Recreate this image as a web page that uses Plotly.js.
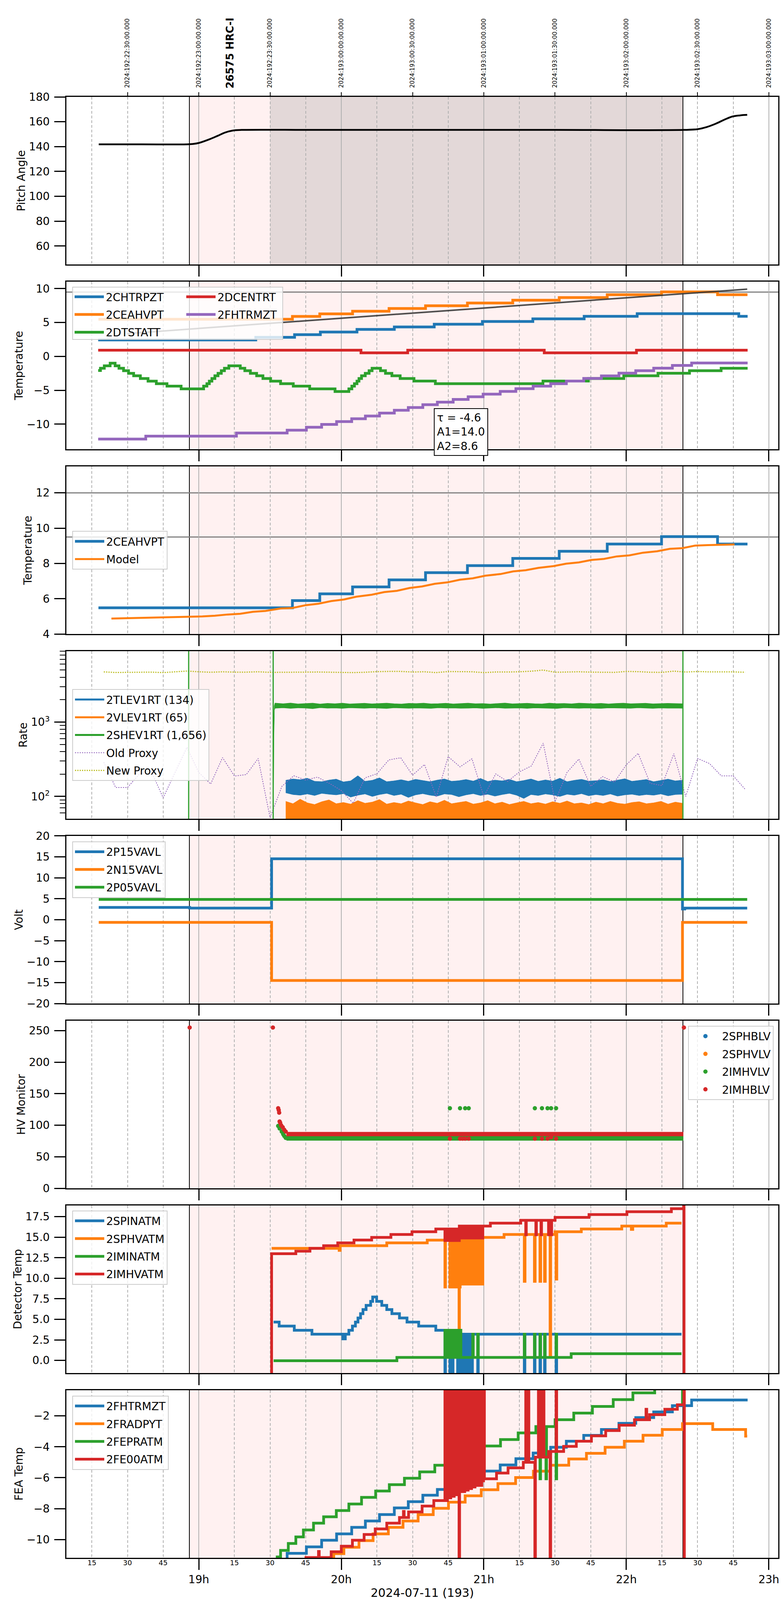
<!DOCTYPE html>
<html>
<head>
<meta charset="utf-8">
<script src="https://cdn.plot.ly/plotly-3.0.1.min.js"></script>
<style>body{margin:0;background:#fff}</style>
</head>
<body>
<div id="myDiv"></div>
<script>
// times are decimal hours (local); step series: value starts at its time

// panel 1: pitch
var pitchT = [18.298, 18.60, 18.918, 18.96, 19.0, 19.078, 19.131, 19.184, 19.238, 19.30, 19.8, 20.5, 21.5, 22.402, 22.499, 22.563, 22.627, 22.691, 22.744, 22.797, 22.848];
var pitch = [141.8, 141.8, 141.8, 142.1, 142.9, 146.0, 148.6, 151.3, 152.9, 153.4, 153.4, 153.4, 153.4, 153.4, 154.0, 155.7, 158.4, 161.8, 164.2, 165.1, 165.5];

// panel 2: temperatures
var chtrpztT = [18.294, 19.40, 19.672, 19.853, 20.11, 20.372, 20.652, 20.99, 21.344, 21.704, 22.076, 22.789, 22.851];
var chtrpzt = [2.43, 2.82, 3.20, 3.60, 3.98, 4.35, 4.75, 5.15, 5.54, 5.92, 6.30, 5.92, 5.92];
var ceahvptT = [18.296, 19.657, 19.849, 20.079, 20.335, 20.591, 20.885, 21.203, 21.529, 21.866, 22.247, 22.640, 22.850];
var ceahvpt = [5.49, 5.90, 6.28, 6.67, 7.07, 7.48, 7.88, 8.29, 8.69, 9.10, 9.52, 9.10, 9.10];
var dtstattT = [18.294, 18.31, 18.337, 18.378, 18.413, 18.44, 18.472, 18.507, 18.543, 18.59, 18.644, 18.702, 18.777, 18.876,
  19.034, 19.057, 19.074, 19.092, 19.113, 19.135, 19.158, 19.18, 19.211, 19.291, 19.323, 19.362, 19.406, 19.45, 19.504,
  19.574, 19.663, 19.778, 19.956, 20.053, 20.074, 20.092, 20.11, 20.124, 20.142, 20.168, 20.195, 20.216, 20.275, 20.31,
  20.355, 20.413, 20.51, 20.66, 21.415, 21.734, 21.982, 22.222, 22.443, 22.665, 22.851];
var dtstatt = [-2.08, -1.75, -1.39, -1.0, -1.39, -1.75, -2.11, -2.51, -2.87, -3.27, -3.66, -4.03, -4.39, -4.80,
  -4.39, -4.03, -3.66, -3.27, -2.87, -2.51, -2.11, -1.75, -1.39, -1.75, -2.11, -2.51, -2.87, -3.27, -3.66,
  -4.03, -4.39, -4.80, -5.18, -4.80, -4.39, -4.03, -3.66, -3.27, -2.87, -2.51, -2.11, -1.75, -2.11, -2.51,
  -2.87, -3.27, -3.65, -4.03, -3.65, -3.27, -2.87, -2.49, -2.11, -1.75, -1.75];
var dcentrtT = [18.294, 20.138, 20.466, 21.424, 22.071, 22.851];
var dcentrt = [0.92, 0.53, 0.92, 0.53, 0.92, 0.92];
var fhtrmztT = [18.294, 18.628, 19.264, 19.62, 19.755, 19.862, 19.967, 20.073, 20.169, 20.268, 20.372, 20.47, 20.572, 20.674, 20.785,
  20.89, 20.995, 21.115, 21.225, 21.346, 21.469, 21.579, 21.701, 21.825, 21.948, 22.066, 22.192, 22.323, 22.458, 22.851];
var fhtrmzt = [-12.21, -11.77, -11.32, -10.89, -10.47, -10.04, -9.63, -9.21, -8.80, -8.38, -7.95, -7.55, -7.13, -6.76, -6.35,
  -5.96, -5.57, -5.17, -4.77, -4.40, -4.03, -3.64, -3.26, -2.88, -2.48, -2.11, -1.74, -1.34, -0.97, -0.97];
var fitT = [18.498, 22.848];
var fit = [3.37, 9.93];
var fitText = 'τ = -4.6<br>A1=14.0<br>A2=8.6';

// panel 3: model
var modelT = [18.387, 18.493, 18.670, 18.936, 19.025, 19.113, 19.202, 19.291, 19.379, 19.468, 19.574, 19.656, 19.752, 19.840,
  19.929, 20.018, 20.106, 20.213, 20.301, 20.390, 20.479, 20.567, 20.656, 20.745, 20.833, 20.922, 21.011, 21.117, 21.206,
  21.294, 21.383, 21.489, 21.578, 21.667, 21.755, 21.844, 21.933, 22.021, 22.117, 22.216, 22.305, 22.394, 22.482, 22.571,
  22.660, 22.759];
var model = [4.88, 4.90, 4.94, 4.97, 5.00, 5.04, 5.11, 5.15, 5.26, 5.31, 5.45, 5.48, 5.64, 5.72,
  5.87, 5.96, 6.12, 6.23, 6.38, 6.45, 6.61, 6.70, 6.85, 6.93, 7.08, 7.16, 7.31, 7.40, 7.55,
  7.62, 7.75, 7.85, 7.99, 8.06, 8.20, 8.26, 8.40, 8.46, 8.61, 8.69, 8.83, 8.87, 9.01, 9.04,
  9.06, 9.08];

// panel 4: rates (band edges read every ~3 min), proxies every 5 min
var bandStart = 19.61, bandEnd = 22.394;
var tlevHi = [165, 172, 168, 176, 160, 158, 166, 171, 157, 162, 190, 160, 165, 178, 158, 162, 168, 160, 170, 164, 158, 166, 172, 160, 163, 169, 161, 175,
  159, 166, 162, 170, 158, 164, 172, 160, 167, 161, 176, 158, 165, 170, 161, 163, 168, 159, 166, 173, 160, 164, 169, 158, 165, 171, 162, 166];
var tlevLo = [112, 106, 104, 108, 103, 110, 107, 105, 109, 98, 104, 108, 100, 106, 110, 103, 107, 97, 105, 109, 104, 101, 108, 106, 99, 105, 109, 103,
  107, 101, 106, 110, 104, 94, 106, 103, 108, 105, 100, 107, 104, 109, 102, 106, 103, 108, 101, 105, 107, 103, 106, 104, 108, 102, 106, 107];
var vlevHi = [86, 80, 92, 82, 78, 85, 90, 80, 83, 79, 88, 81, 84, 91, 79, 83, 80, 87, 82, 78, 85, 81, 89, 80, 83, 86, 79, 82,
  88, 80, 84, 78, 82, 86, 80, 83, 79, 85, 81, 87, 80, 82, 78, 84, 80, 86, 81, 79, 83, 85, 80, 82, 86, 79, 84, 81];
var vlevFloor = 45;
var shevStart = 19.54;
var shevRiseT = [19.522, 19.526, 19.530, 19.535];
var shevRiseHi = [30, 800, 1650, 1790];
var shevRiseLo = [30, 600, 1450, 1540];
var shevHi = [1790, 1760, 1800, 1750, 1770, 1790, 1745, 1780, 1760, 1795, 1750, 1770, 1785, 1755, 1775, 1790, 1760, 1745, 1780, 1770,
  1795, 1755, 1765, 1785, 1750, 1775, 1790, 1760, 1770, 1745, 1780, 1800, 1755, 1770, 1785, 1760, 1750, 1790, 1765, 1775,
  1755, 1795, 1770, 1760, 1780, 1750, 1775, 1790, 1760, 1770, 1785, 1755, 1765, 1780, 1770, 1760];
var shevLo = [1540, 1560, 1530, 1555, 1545, 1520, 1565, 1540, 1550, 1530, 1560, 1545, 1535, 1555, 1540, 1525, 1560, 1545, 1535, 1550,
  1540, 1530, 1560, 1545, 1550, 1535, 1540, 1555, 1530, 1545, 1560, 1535, 1540, 1550, 1530, 1555, 1545, 1540, 1525, 1560,
  1545, 1535, 1550, 1540, 1530, 1555, 1545, 1540, 1535, 1560, 1545, 1530, 1550, 1540, 1545, 1535];
var proxyStart = 18 + 20 / 60, proxyStep = 5 / 60;
var oldProxy = [288, 132, 132, 200, 218, 96, 210, 457, 210, 147, 333, 188, 197, 324, 52, 137, 190, 166, 182, 150, 120, 81, 178, 202,
  310, 331, 193, 269, 98, 343, 250, 321, 100, 201, 159, 214, 257, 521, 85, 210, 318, 137, 185, 156, 267, 380, 150, 140,
  376, 100, 324, 277, 189, 189, 125];
var newProxy = [4728, 4643, 4660, 4694, 4694, 4626, 4728, 4853, 4746, 4677, 4746, 4694, 4694, 4746, 4660, 4660, 4677, 4694, 4711, 4677,
  4660, 4626, 4677, 4764, 4799, 4799, 4711, 4746, 4626, 4782, 4764, 4746, 4626, 4711, 4711, 4746, 4835, 5000, 4677, 4728,
  4746, 4694, 4694, 4660, 4799, 4764, 4677, 4660, 4835, 4711, 4782, 4728, 4728, 4728, 4677];
var rateNames = ['2TLEV1RT (134)', '2VLEV1RT (65)', '2SHEV1RT (1,656)', 'Old Proxy', 'New Proxy'];

// panel 5: voltages
var p15T = [18.298, 18.936, 19.511, 22.394, 22.41, 22.848];
var p15 = [2.92, 2.77, 14.54, 2.55, 2.77, 2.77];
var n15T = [18.298, 19.511, 22.394, 22.848];
var n15 = [-0.63, -14.49, -0.63, -0.63];
var p05T = [18.298, 22.848];
var p05 = [4.85, 4.85];

// panel 6: HV monitor
var imhblvT = [18.936, 19.52, 19.557, 19.561, 19.564, 19.567, 19.571, 19.578, 19.589, 19.599, 19.61,
  20.762, 20.833, 20.851, 20.869, 20.894, 21.358, 21.408, 21.447, 21.472, 21.507, 22.404];
var imhblv = [255, 255, 127, 124, 120, 106, 104, 100, 97, 93, 90, 78.8, 78.8, 78.8, 78.8, 78.8, 78.8, 78.8, 78.8, 81, 78.8, 255];
var imhblvRunT = [19.615, 22.40];
var imhblvRun = [86, 86];
var imhvlvT = [19.557, 19.567, 19.582, 19.592, 19.60, 19.61, 20.762, 20.833, 20.869, 20.894, 21.358, 21.408, 21.447, 21.472, 21.507];
var imhvlv = [99, 95, 90, 86, 83, 80, 127, 127, 127, 127, 127, 127, 127, 127, 127];
var imhvlvRunT = [19.615, 22.40];
var imhvlvRun = [79.3, 79.3];

// panel 7: detector temps
var spinatmT = [19.525, 19.564, 19.670, 19.794, 20.011, 20.028, 20.053, 20.078, 20.099, 20.117, 20.135, 20.152, 20.174, 20.206, 20.22,
  20.248, 20.284, 20.319, 20.355, 20.408, 20.461, 20.543, 20.663,
  20.727, 20.731, 20.762, 20.766, 20.78, 20.784, 20.816, 20.822, 20.828, 20.834, 20.84, 20.846, 20.852, 20.858, 20.864, 20.87,
  20.876, 20.882, 20.888, 20.894, 20.9, 20.906, 20.912, 20.92, 20.957, 20.961,
  21.284, 21.288, 21.355, 21.359, 21.394, 21.398, 21.426, 21.43, 21.507, 21.511, 22.387];
var spinatm = [4.67, 4.18, 3.67, 3.19, 2.62, 3.19, 3.67, 4.18, 4.67, 5.17, 5.69, 6.19, 6.70, 7.19, 7.72,
  7.19, 6.70, 6.19, 5.69, 5.17, 4.67, 4.18, 3.67,
  -3, 3.67, -3, 3.67, -3, 3.67, -3, 3.67, -3, 3.19, -3, 3.19, -3, 3.19, -3, 3.19,
  -3, 3.19, -3, 3.19, -3, 3.19, -3, 3.19, -3, 3.19,
  -3, 3.19, -3, 3.19, -3, 3.19, -3, 3.19, -3, 3.19, 3.19];
var sphvatmT = [19.511, 19.985, 19.992, 20.319, 20.603,
  20.727, 20.731, 20.762, 20.766, 20.78, 20.786, 20.795, 20.80, 20.808, 20.815, 20.822, 20.826, 20.829, 20.834, 20.84, 20.846,
  20.852, 20.858, 20.864, 20.87, 20.876, 20.882, 20.888, 20.894, 20.9, 20.906, 20.912, 20.918, 20.924, 20.93, 20.936, 20.942,
  20.948, 20.954, 20.96, 20.966, 20.972, 20.978, 20.984,
  20.993, 21.142, 21.284, 21.289, 21.355, 21.36, 21.394, 21.399, 21.426, 21.431, 21.465, 21.469, 21.5, 21.507, 21.512, 21.684,
  21.968, 22.035, 22.045, 22.280, 22.387];
var sphvatm = [13.64, 13.40, 13.97, 14.31, 14.64,
  8.94, 14.64, 8.94, 14.64, 8.94, 14.64, 8.94, 14.64, 8.94, 14.64, 8.94, 3.82, 8.94, 15.0, 9.29, 15.0,
  9.29, 15.0, 9.29, 15.0, 9.29, 15.0, 9.29, 15.0, 9.29, 15.0, 9.29, 15.0, 9.29, 15.0, 9.29, 15.0,
  9.29, 15.0, 9.29, 15.0, 9.29, 15.0, 9.29,
  14.98, 15.33, 9.62, 15.33, 9.62, 15.33, 9.62, 15.33, 9.62, 15.33, 0.52, 15.33, 15.66, 9.9, 15.66, 16.0,
  16.36, 15.95, 16.36, 16.71, 16.71];
var iminatmT = [19.525, 20.39,
  20.727, 20.731, 20.745, 20.749, 20.755, 20.759, 20.765, 20.769, 20.775, 20.779, 20.785, 20.789, 20.795, 20.799, 20.805, 20.809,
  20.815, 20.819, 20.825, 20.829, 20.835, 20.839, 20.922, 20.926, 20.957, 20.961,
  21.284, 21.288, 21.355, 21.359, 21.394, 21.398, 21.426, 21.43, 21.507, 21.511, 21.613, 22.387];
var iminatm = [-0.04, 0.37,
  3.67, 0.37, 3.67, 0.37, 3.67, 0.37, 3.67, 0.37, 3.67, 0.37, 3.67, 0.37, 3.67, 0.37, 3.67, 0.37,
  3.67, 0.37, 3.67, 0.37, 3.67, 0.37, 3.19, 0.37, 3.19, 0.37,
  3.19, 0.37, 3.19, 0.37, 3.19, 0.37, 3.19, 0.37, 3.19, 0.37, 0.82, 0.82];
var imhvatmT = [18.30, 19.511, 19.681, 19.780, 19.876, 19.975, 20.089, 20.213, 20.348, 20.496, 20.663,
  20.727, 20.735, 20.745, 20.752, 20.76, 20.768, 20.775, 20.783, 20.79, 20.798, 20.805, 20.813, 20.82, 20.828, 20.836, 20.844,
  20.852, 20.86, 20.868, 20.876, 20.884, 20.892, 20.9, 20.908, 20.916, 20.924, 20.932, 20.94, 20.948, 20.956, 20.964, 20.972, 20.98,
  20.993, 21.046, 21.259, 21.294, 21.298, 21.365, 21.369, 21.401, 21.405, 21.454, 21.458, 21.472, 21.476, 21.5, 21.738, 22.004,
  22.316, 22.402, 22.405, 22.85];
var imhvatm = [-5, 12.99, 13.30, 13.64, 13.97, 14.31, 14.65, 14.98, 15.33, 15.67, 16.0,
  14.6, 16.0, 14.6, 16.0, 14.6, 16.0, 14.6, 16.0, 14.6, 16.0, 14.6, 16.0, 14.6, 16.36, 14.9, 16.36,
  14.9, 16.36, 14.9, 16.36, 14.9, 16.36, 14.9, 16.36, 14.9, 16.36, 14.9, 16.36, 14.9, 16.36, 14.9, 16.36, 14.9,
  16.36, 16.71, 17.05, 15.3, 17.05, 15.3, 17.05, 15.3, 17.05, 15.3, 17.05, 15.3, 17.05, 17.41, 17.76, 18.1,
  18.47, 25, -5, -5];

// panel 8: FEA temps (2FHTRMZT shared with panel 2)
var fradpytT = [19.911, 19.947, 20.018, 20.124, 20.223, 20.330, 20.433, 20.539, 20.645, 20.752, 20.869, 20.982, 21.099, 21.223,
  21.348, 21.465, 21.596, 21.720, 21.851, 21.986, 22.117, 22.252, 22.394, 22.606, 22.837, 22.848];
var fradpyt = [-11.16, -10.91, -10.50, -10.07, -9.63, -9.21, -8.80, -8.39, -7.98, -7.58, -7.17, -6.78, -6.38, -5.99,
  -5.58, -5.19, -4.79, -4.42, -4.03, -3.64, -3.25, -2.88, -2.50, -2.88, -3.31, -3.31];
var fepratmT = [19.30, 19.550, 19.574, 19.628, 19.681, 19.734, 19.805, 19.876, 19.965, 20.053, 20.142, 20.241, 20.337, 20.443, 20.550,
  20.656, 20.76, 20.87, 20.993, 21.117, 21.241, 21.365, 21.394, 21.398, 21.436, 21.44, 21.5, 21.507, 21.511, 21.631, 21.762,
  21.908, 22.046, 22.199, 22.394];
var fepratm = [-13, -11.12, -10.70, -10.25, -9.83, -9.38, -8.94, -8.53, -8.12, -7.70, -7.27, -6.86, -6.45, -6.03, -5.62,
  -5.19, -4.78, -4.36, -3.95, -3.53, -3.10, -2.69, -6.07, -2.69, -6.07, -2.69, -2.25, -6.07, -2.25, -1.82, -1.39,
  -0.95, -0.51, -0.1, -1.3];
var fe00atmT = [19.30, 19.752, 19.840, 19.845, 19.929, 20.0, 20.078, 20.160, 20.238, 20.319, 20.408, 20.436, 20.441, 20.472, 20.567, 20.649,
  20.727, 20.731, 20.745, 20.75, 20.756, 20.762, 20.768, 20.774, 20.78, 20.786, 20.792, 20.798, 20.804, 20.81, 20.816, 20.822,
  20.826, 20.83, 20.836, 20.842, 20.848, 20.854, 20.86, 20.866, 20.872, 20.878, 20.884, 20.89, 20.896, 20.902, 20.908, 20.914,
  20.92, 20.926, 20.932, 20.938, 20.944, 20.95, 20.956, 20.962, 20.968, 20.974, 20.98, 20.986, 20.992, 20.998,
  21.004, 21.089, 21.170, 21.277, 21.294, 21.298, 21.312, 21.316, 21.358, 21.362, 21.383, 21.387, 21.401, 21.405, 21.418, 21.422,
  21.454, 21.465, 21.469, 21.507, 21.511, 21.560, 21.649, 21.755, 21.855, 21.950, 22.057, 22.138, 22.143, 22.163, 22.270, 22.358,
  22.404, 22.407];
var fe00atm = [-13, -11.16, -10.77, -11.16, -10.79, -10.43, -10.04, -9.67, -9.31, -8.94, -8.57, -8.18, -8.57, -8.21, -7.83, -7.48,
  2, -7.48, 2, -7.1, 2, -7.3, 2, -6.9, 2, -7.2, 2, -6.8, 2, -7.1, 2, -6.8,
  -13, 2, -6.9, 2, -6.6, 2, -6.9, 2, -6.5, 2, -6.8, 2, -6.5, 2, -6.7, 2,
  -6.4, 2, -6.6, 2, -6.3, 2, -6.5, 2, -6.2, 2, -6.5, 2, -6.2, 2,
  -6.07, -5.70, -5.36, -5.0, 2, -5.0, 2, -5.0, -13, -4.67, 2, -4.67, 2, -4.67, 2, -4.67,
  -4.30, -13, -4.30, 2, -4.30, -3.97, -3.64, -3.29, -2.95, -2.60, -2.25, -1.57, -2.25, -1.92, -1.57, -1.28,
  2, -13];

// axis ticks and labels
var hours = [19, 20, 21, 22, 23];
var hourText = ['19h', '20h', '21h', '22h', '23h'];
var quarterT = [18.25, 18.5, 18.75, 19.25, 19.5, 19.75, 20.25, 20.5, 20.75, 21.25, 21.5, 21.75, 22.25, 22.5, 22.75];
var quarterText = ['15', '30', '45', '15', '30', '45', '15', '30', '45', '15', '30', '45', '15', '30', '45'];
var topT = [18.5, 19, 19.5, 20, 20.5, 21, 21.5, 22, 22.5, 23];
var topText = ['2024:192:22:30:00.000', '2024:192:23:00:00.000', '2024:192:23:30:00.000', '2024:193:00:00:00.000',
  '2024:193:00:30:00.000', '2024:193:01:00:00.000', '2024:193:01:30:00.000', '2024:193:02:00:00.000',
  '2024:193:02:30:00.000', '2024:193:03:00:00.000'];
var obsLabel = '26575 HRC-I';
var dateLabel = '2024-07-11 (193)';
var yTitles = ['Pitch Angle', 'Temperature', 'Temperature', 'Rate', 'Volt', 'HV Monitor', 'Detector Temp', 'FEA Temp'];
var obsStart = 18.934, obsEnd = 22.397, slewEnd = 19.5, hrcOn = 19.522;

// layout geometry in reference pixels; the panel stack is squeezed when the window is shorter than the figure
var W = 2000, REF_H = 6200, TOP = 248, BOT = 108;
var H = Math.min(REF_H, window.innerHeight || REF_H);
var ps = (H - TOP - BOT) / (REF_H - TOP - BOT);
function Y(p) { return p <= TOP ? p : TOP + (p - TOP) * ps; }
var plotL = 170, plotR = 1993, panelH = 671;
var panelTop = [248, 987, 1726, 2465, 3204, 3943, 4682, 5421];
function px(p) { return p / W; }
function pp(v) { return 1 - v / H; }           // already-mapped pixel -> paper
function py(p) { return pp(Y(p)); }
function sfx(n) { return n > 1 ? String(n) : ''; }
function pTop(i) { return Y(panelTop[i]); }
function pMid(i) { return (Y(panelTop[i]) + Y(panelTop[i] + panelH)) / 2; }

var C = {blue: '#1f77b4', orange: '#ff7f0e', green: '#2ca02c', red: '#d62728', purple: '#9467bd', olive: '#bcbd22'};

function grid(start, step, n) {
  var t = [];
  for (var i = 0; i < n; i++) t.push(start + i * step);
  return t;
}

function line(x, y, name, color, n, legend, opt) {
  opt = opt || {};
  var t = {
    type: 'scatter', mode: 'lines', x: x, y: y, name: name,
    xaxis: 'x' + sfx(n), yaxis: 'y' + sfx(n),
    line: {color: color, width: opt.width || 7, shape: opt.shape || 'hv', dash: opt.dash || 'solid'},
    showlegend: !!legend, legend: legend || 'legend', legendgroup: name + n, hoverinfo: 'skip'
  };
  if (opt.fill) { t.fill = opt.fill; t.fillcolor = color; }
  return t;
}

function dots(x, y, name, color, n, legend) {
  return {
    type: 'scatter', mode: 'markers', x: x, y: y, name: name,
    xaxis: 'x' + sfx(n), yaxis: 'y' + sfx(n),
    marker: {color: color, size: 11},
    showlegend: !!legend, legend: legend || 'legend', legendgroup: name + n, hoverinfo: 'skip'
  };
}

var tBand = grid(bandStart, (bandEnd - bandStart) / (tlevHi.length - 1), tlevHi.length);
var tShev = shevRiseT.concat(grid(shevStart, (bandEnd - shevStart) / (shevHi.length - 1), shevHi.length));
var tProxy = grid(proxyStart, proxyStep, oldProxy.length);
var vlevLo = tBand.map(function () { return vlevFloor; });

var data = [
  line(pitchT, pitch, 'Pitch', '#000', 1, null, {width: 4.5, shape: 'spline'}),
  {type: 'scatter', x: [null], y: [null], xaxis: 'x9', yaxis: 'y', showlegend: false, hoverinfo: 'skip'},

  line(chtrpztT, chtrpzt, '2CHTRPZT', C.blue, 2, 'legend'),
  line(ceahvptT, ceahvpt, '2CEAHVPT', C.orange, 2, 'legend'),
  line(dtstattT, dtstatt, '2DTSTATT', C.green, 2, 'legend'),
  line(dcentrtT, dcentrt, '2DCENTRT', C.red, 2, 'legend2'),
  line(fhtrmztT, fhtrmzt, '2FHTRMZT', C.purple, 2, 'legend2'),
  line(fitT, fit, 'fit', 'rgba(60,60,60,0.9)', 2, null, {width: 4, shape: 'linear'}),

  line(ceahvptT, ceahvpt, '2CEAHVPT', C.blue, 3, 'legend3'),
  line(modelT, model, 'Model', C.orange, 3, 'legend3', {width: 5, shape: 'linear'}),

  line([null], [null], rateNames[0], C.blue, 4, 'legend4', {width: 5, shape: 'linear'}),
  line(tBand, tlevLo, 'a', C.blue, 4, null, {width: 1, shape: 'linear'}),
  line(tBand, tlevHi, 'b', C.blue, 4, null, {width: 1, shape: 'linear', fill: 'tonexty'}),
  line([null], [null], rateNames[1], C.orange, 4, 'legend4', {width: 5, shape: 'linear'}),
  line(tBand, vlevLo, 'c', C.orange, 4, null, {width: 1, shape: 'linear'}),
  line(tBand, vlevHi, 'd', C.orange, 4, null, {width: 1, shape: 'linear', fill: 'tonexty'}),
  line([null], [null], rateNames[2], C.green, 4, 'legend4', {width: 5, shape: 'linear'}),
  line(tShev, shevRiseLo.concat(shevLo), 'e', C.green, 4, null, {width: 1.5, shape: 'linear'}),
  line(tShev, shevRiseHi.concat(shevHi), 'f', C.green, 4, null, {width: 1.5, shape: 'linear', fill: 'tonexty'}),
  line(tProxy, oldProxy, rateNames[3], C.purple, 4, 'legend4', {width: 2, shape: 'linear', dash: 'dot'}),
  line(tProxy, newProxy, rateNames[4], C.olive, 4, 'legend4', {width: 3, shape: 'linear', dash: 'dot'}),

  line(p15T, p15, '2P15VAVL', C.blue, 5, 'legend5'),
  line(n15T, n15, '2N15VAVL', C.orange, 5, 'legend5'),
  line(p05T, p05, '2P05VAVL', C.green, 5, 'legend5'),

  dots([null], [null], '2SPHBLV', C.blue, 6, 'legend6'),
  dots([null], [null], '2SPHVLV', C.orange, 6, 'legend6'),
  line(imhvlvRunT, imhvlvRun, 'g', C.green, 6, null, {width: 12, shape: 'linear'}),
  dots(imhvlvT, imhvlv, '2IMHVLV', C.green, 6, 'legend6'),
  line(imhblvRunT, imhblvRun, 'h', C.red, 6, null, {width: 11, shape: 'linear'}),
  dots(imhblvT, imhblv, '2IMHBLV', C.red, 6, 'legend6'),

  line(spinatmT, spinatm, '2SPINATM', C.blue, 7, 'legend7'),
  line(sphvatmT, sphvatm, '2SPHVATM', C.orange, 7, 'legend7'),
  line(iminatmT, iminatm, '2IMINATM', C.green, 7, 'legend7'),
  line(imhvatmT, imhvatm, '2IMHVATM', C.red, 7, 'legend7'),

  line(fhtrmztT, fhtrmzt, '2FHTRMZT', C.blue, 8, 'legend8'),
  line(fradpytT, fradpyt, '2FRADPYT', C.orange, 8, 'legend8'),
  line(fepratmT, fepratm, '2FEPRATM', C.green, 8, 'legend8'),
  line(fe00atmT, fe00atm, '2FE00ATM', C.red, 8, 'legend8'),
  {type: 'scatter', x: [null], y: [null], xaxis: 'x10', yaxis: 'y8', showlegend: false, hoverinfo: 'skip'}
];

var yRanges = [[45, 180], [-13.73, 11.04], [4, 13.5], [Math.log10(50), Math.log10(9000)], [-20, 20], [0, 266], [-1.54, 18.88], [-11.18, -0.33]];
var yDticks = [20, 5, 2, 0, 5, 50, 2.5, 2];

var layout = {
  width: W, height: H,
  margin: {l: 0, r: 0, t: 0, b: 0},
  paper_bgcolor: '#fff', plot_bgcolor: '#fff',
  font: {family: 'DejaVu Sans', size: 28, color: '#000'},
  showlegend: true,
  shapes: [], annotations: []
};

for (var i = 0; i < 8; i++) {
  var n = i + 1;
  var xa = {
    domain: [px(plotL), px(plotR)], anchor: 'y' + sfx(n), range: [18.071, 23.066],
    tickmode: 'array', tickvals: hours, ticktext: hourText, showticklabels: n === 8,
    ticks: 'outside', ticklen: 28, tickwidth: 3, tickcolor: '#000', tickfont: {size: 28},
    showline: true, linewidth: 3, linecolor: '#000', mirror: true, zeroline: false,
    showgrid: true, gridcolor: '#b0b0b0', gridwidth: 2,
    minor: {tick0: 18, dtick: 0.25, showgrid: true, gridcolor: '#b0b0b0', gridwidth: 2, griddash: '7px,5px', ticks: ''}
  };
  if (n === 8) xa.title = {text: dateLabel, font: {size: 30}, standoff: 6};
  var ya = {
    domain: [py(panelTop[i] + panelH), py(panelTop[i])], anchor: 'x' + sfx(n), range: yRanges[i],
    ticks: 'outside', ticklen: 28, tickwidth: 3, tickcolor: '#000', tickfont: {size: 28}, ticklabelstandoff: 6,
    showline: true, linewidth: 3, linecolor: '#000', mirror: true, zeroline: false, showgrid: false,
    title: {text: yTitles[i], font: {size: 28}, standoff: 2}
  };
  if (n === 4) {
    ya.type = 'log';
    ya.tickmode = 'array';
    ya.tickvals = [100, 1000];
    ya.ticktext = ['10<sup>2</sup>', '10<sup>3</sup>'];
    ya.minor = {tickmode: 'array', tickvals: [60, 70, 80, 90, 200, 300, 400, 500, 600, 700, 800, 900, 2000, 3000, 4000, 5000, 6000, 7000, 8000, 9000],
      ticks: 'outside', ticklen: 14, tickwidth: 2, tickcolor: '#000', showgrid: false};
  } else {
    ya.tickmode = 'linear';
    ya.tick0 = 0;
    ya.dtick = yDticks[i];
    if (n === 7) ya.tickformat = '.1f';
  }
  layout['xaxis' + sfx(n)] = xa;
  layout['yaxis' + sfx(n)] = ya;

  // observation span and markers
  layout.shapes.push({type: 'rect', xref: 'x' + sfx(n), yref: 'y' + sfx(n) + ' domain', x0: obsStart, x1: obsEnd, y0: 0, y1: 1,
    fillcolor: '#fff1f1', line: {width: 0}, layer: 'below'});
  if (n === 1) {
    layout.shapes.push({type: 'rect', xref: 'x', yref: 'y domain', x0: slewEnd, x1: obsEnd, y0: 0, y1: 1,
      fillcolor: '#e3d8d8', line: {width: 0}, layer: 'below'});
  }
  var vCol = n === 4 ? C.green : '#000';
  var vW = n === 4 ? 3 : 2;
  var marks = n === 4 ? [obsStart - 0.005, hrcOn, obsEnd] : [obsStart, obsEnd];
  for (var k = 0; k < marks.length; k++) {
    layout.shapes.push({type: 'line', xref: 'x' + sfx(n), yref: 'y' + sfx(n) + ' domain', x0: marks[k], x1: marks[k], y0: 0, y1: 1,
      line: {color: vCol, width: vW}, layer: n === 4 ? 'above' : 'below'});
  }
}

// limit lines
layout.shapes.push({type: 'line', xref: 'x2 domain', yref: 'y2', x0: 0, x1: 1, y0: 9.5, y1: 9.5, line: {color: '#808080', width: 3}, layer: 'below'});
layout.shapes.push({type: 'line', xref: 'x3 domain', yref: 'y3', x0: 0, x1: 1, y0: 9.5, y1: 9.5, line: {color: '#808080', width: 3}, layer: 'below'});
layout.shapes.push({type: 'line', xref: 'x3 domain', yref: 'y3', x0: 0, x1: 1, y0: 12, y1: 12, line: {color: '#808080', width: 3}, layer: 'below'});
// frame of the two-column legend in panel 2
layout.shapes.push({type: 'rect', xref: 'paper', yref: 'paper', x0: px(186), x1: px(724), y0: pp(pTop(1) + 148), y1: pp(pTop(1) + 14),
  fillcolor: 'rgba(255,255,255,0.8)', line: {color: '#cccccc', width: 2}, layer: 'above'});

// top time axis and quarter-hour labels
layout.xaxis9 = {overlaying: 'x', anchor: 'y', side: 'top', range: [18.071, 23.066],
  tickmode: 'array', tickvals: topT, ticktext: topText, tickangle: -90, tickfont: {size: 15},
  ticks: 'outside', ticklen: 11, tickwidth: 2, tickcolor: '#000', ticklabelstandoff: 8,
  showgrid: false, showline: false, zeroline: false};
layout.xaxis10 = {overlaying: 'x8', anchor: 'y8', side: 'bottom', range: [18.071, 23.066],
  tickmode: 'array', tickvals: quarterT, ticktext: quarterText, tickfont: {size: 18},
  ticks: '', ticklen: 0, showgrid: false, showline: false, zeroline: false, ticklabelstandoff: 0};

function leg(x, yTopPx, extra) {
  var l = {x: px(x), y: pp(yTopPx), xanchor: 'left', yanchor: 'top', bgcolor: 'rgba(255,255,255,0.8)',
    bordercolor: '#cccccc', borderwidth: 2, font: {size: 28}, itemwidth: 75, tracegroupgap: 6, traceorder: 'grouped'};
  for (var k in extra) l[k] = extra[k];
  return l;
}
layout.legend = leg(186, pTop(1) + 14, {bgcolor: 'rgba(0,0,0,0)', borderwidth: 0});
layout.legend2 = leg(472, pTop(1) + 14, {bgcolor: 'rgba(0,0,0,0)', borderwidth: 0});
layout.legend3 = leg(185, pMid(2), {yanchor: 'middle'});
layout.legend4 = leg(185, pMid(3), {yanchor: 'middle'});
layout.legend5 = leg(185, pTop(4) + 14);
layout.legend6 = leg(1981, pTop(5) + 13, {xanchor: 'right'});
layout.legend7 = leg(185, pTop(6) + 13);
layout.legend8 = leg(185, pTop(7) + 14);

layout.annotations.push({xref: 'x', x: 19.219, yref: 'paper', y: py(248), yanchor: 'bottom', yshift: 20,
  textangle: -90, text: '<b>' + obsLabel + '</b>', font: {size: 26}, showarrow: false});
layout.annotations.push({xref: 'x2', x: 20.649, xanchor: 'left', yref: 'paper', y: py(panelTop[1] + panelH), yanchor: 'bottom', yshift: -17,
  text: fitText, align: 'left', bgcolor: '#fff', bordercolor: '#000', borderwidth: 2, borderpad: 6,
  font: {size: 28}, showarrow: false});

document.getElementById('myDiv').style.height = H + 'px';
Plotly.newPlot('myDiv', data, layout, {staticPlot: true});
</script>
</body>
</html>
